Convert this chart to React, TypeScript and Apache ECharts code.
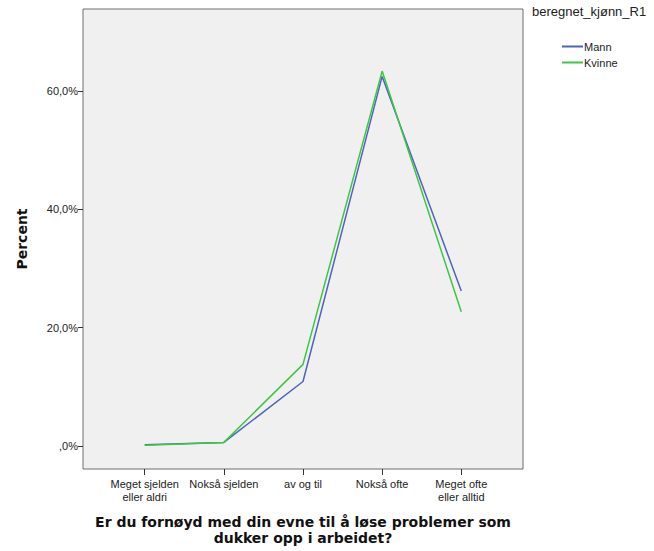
import React, { useEffect, useRef } from "react";
import * as echarts from "echarts";

const categories = ["Meget sjelden\neller aldri", "Nokså sjelden", "av og til", "Nokså ofte", "Meget ofte\neller alltid"];
const mann = [0.2, 0.6, 10.9, 62.5, 26.2];
const kvinne = [0.1, 0.6, 13.8, 63.4, 22.7];
const yTicks = [0, 20, 40, 60];
const legendTitle = "beregnet_kjønn_R1";
const xTitle = "Er du fornøyd med din evne til å løse problemer som\ndukker opp i arbeidet?";
const yTitle = "Percent";

const font = "'Liberation Sans', Arial, sans-serif";
const boldFont = "'DejaVu Sans', sans-serif";

export default function App() {
  const ref = useRef<HTMLDivElement>(null);
  useEffect(() => {
    const chart = echarts.init(ref.current!, null, { renderer: "svg" });
    const idx = categories.map((_, i) => i);
    chart.setOption({
      animation: false,
      backgroundColor: "#ffffff",
      textStyle: { fontFamily: font },
      grid: {
        left: 83, right: 131, top: 9, bottom: 79,
        show: true, backgroundColor: "#f0f0f0", borderColor: "#6e6e6e", borderWidth: 1,
      },
      xAxis: {
        type: "value",
        min: -0.78,
        max: 4.78,
        splitLine: { show: false },
        axisLine: { show: false, onZero: false },
        axisTick: { show: true, customValues: idx, length: 6, lineStyle: { color: "#333" } },
        axisLabel: {
          customValues: idx,
          formatter: (v: number) => categories[Math.round(v)] ?? "",
          color: "#222", fontSize: 11, fontFamily: font, margin: 8, lineHeight: 13,
        },
        name: xTitle,
        nameLocation: "middle",
        nameGap: 45,
        nameTextStyle: { fontSize: 14, fontWeight: "bold", color: "#111", fontFamily: boldFont, lineHeight: 16 },
      },
      yAxis: {
        type: "value",
        min: -3.9,
        max: 73.9,
        splitLine: { show: false },
        axisLine: { show: false, onZero: false },
        axisTick: { show: true, customValues: yTicks, length: 5, lineStyle: { color: "#333" } },
        axisLabel: {
          customValues: yTicks,
          formatter: (v: number) => (v === 0 ? ",0%" : v.toFixed(1).replace(".", ",") + "%"),
          color: "#222", fontSize: 11, fontFamily: font, margin: 5,
        },
        name: yTitle,
        nameLocation: "middle",
        nameGap: 54,
        nameTextStyle: { fontSize: 14, fontWeight: "bold", color: "#111", fontFamily: boldFont },
      },
      legend: {
        orient: "vertical",
        left: 557,
        top: 36,
        icon: "rect",
        itemWidth: 21,
        itemHeight: 2,
        itemGap: 5,
        textStyle: { fontSize: 11, color: "#222", fontFamily: font, padding: [0, 0, 0, -4] },
        data: ["Mann", "Kvinne"],
      },
      graphic: [
        {
          type: "text",
          left: 532,
          top: 5,
          style: { text: legendTitle, fontSize: 13, fill: "#222", fontFamily: font },
        },
      ],
      series: [
        {
          name: "Mann",
          type: "line",
          data: mann.map((v, i) => [i, v]),
          symbol: "none",
          lineStyle: { color: "#4f62c0", width: 1.5 },
          itemStyle: { color: "#4f62c0" },
        },
        {
          name: "Kvinne",
          type: "line",
          data: kvinne.map((v, i) => [i, v]),
          symbol: "none",
          lineStyle: { color: "#3dc63f", width: 1.5 },
          itemStyle: { color: "#3dc63f" },
        },
      ],
    });
    return () => chart.dispose();
  }, []);
  return <div ref={ref} style={{ width: 654, height: 551, position: "absolute", left: 0, top: 0 }} />;
}
